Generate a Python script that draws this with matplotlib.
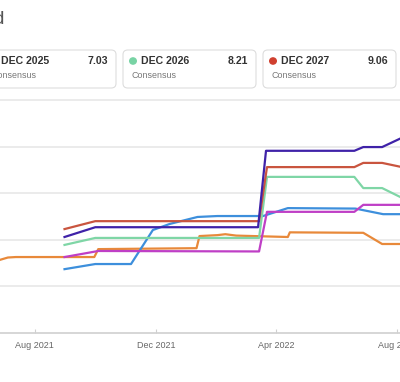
import matplotlib
matplotlib.use("Agg")
import matplotlib.pyplot as plt
import matplotlib.dates as mdates
import pandas as pd
from matplotlib.patches import FancyBboxPatch, Circle

# ==========================================
# DATA
# ==========================================

orange_dates = ["2021-06-27", "2021-07-05", "2021-07-13", "2021-09-30", "2021-10-04",
                "2022-01-11", "2022-01-14", "2022-02-01", "2022-02-09", "2022-02-20",
                "2022-04-13", "2022-04-15", "2022-06-28", "2022-07-17", "2022-08-06"]
orange_vals = [6.57, 6.62, 6.63, 6.63, 6.80,
               6.82, 7.08, 7.10, 7.12, 7.09,
               7.06, 7.16, 7.15, 6.91, 6.91]

red_dates = ["2021-08-31", "2021-10-01", "2022-03-15", "2022-03-23",
             "2022-06-19", "2022-06-28", "2022-07-17", "2022-08-06"]
red_vals = [7.23, 7.40, 7.40, 8.56, 8.56, 8.65, 8.65, 8.56]

purple_dates = ["2021-08-31", "2021-10-01", "2022-03-14", "2022-03-22",
                "2022-06-19", "2022-06-28", "2022-07-17", "2022-08-06"]
purple_vals = [7.06, 7.27, 7.27, 8.91, 8.91, 8.99, 8.99, 9.19]

green_dates = ["2021-08-31", "2021-10-01", "2022-03-15", "2022-03-23",
               "2022-06-19", "2022-06-28", "2022-07-17", "2022-08-06"]
green_vals = [6.89, 7.04, 7.04, 8.35, 8.35, 8.11, 8.11, 7.90]

blue_dates = ["2021-08-31", "2021-10-01", "2021-11-06", "2021-11-28", "2021-12-15",
              "2022-01-12", "2022-02-01", "2022-03-19", "2022-04-13", "2022-06-20",
              "2022-07-18", "2022-08-06"]
blue_vals = [6.37, 6.48, 6.48, 7.21, 7.34,
             7.49, 7.51, 7.51, 7.68, 7.67,
             7.55, 7.55]

magenta_dates = ["2021-08-31", "2021-10-04", "2022-03-15", "2022-03-23",
                 "2022-06-19", "2022-06-28", "2022-08-06"]
magenta_vals = [6.63, 6.76, 6.75, 7.60, 7.60, 7.75, 7.75]

tick_dates = ["2021-08-01", "2021-12-01", "2022-04-01", "2022-08-01"]
tick_labels = ["Aug 2021", "Dec 2021", "Apr 2022", "Aug 2022"]

cards = [("DEC 2025", "7.03", "#e8893a"),
         ("DEC 2026", "8.21", "#78d3a4"),
         ("DEC 2027", "9.06", "#d0402f")]

W, H = 400, 382

# ==========================================
# FIGURE
# ==========================================

fig = plt.figure(figsize=(W / 100, H / 100), dpi=100)
fig.patch.set_facecolor("white")


def fx(px):
    return px / W


def fy(py):
    return 1 - py / H


ax = fig.add_axes([0, fy(333), 1, fy(100) - fy(333)])
ax.set_xlim(pd.Timestamp("2021-06-27"), pd.Timestamp("2022-08-04"))
ax.set_ylim(5, 10)

for v in [6, 7, 8, 9, 10]:
    ax.axhline(v, color="#e6e6e6", lw=1.1, zorder=0, clip_on=False)

series = [
    (orange_dates, orange_vals, "#e8893a"),
    (blue_dates, blue_vals, "#3d8fdc"),
    (magenta_dates, magenta_vals, "#bf3fc6"),
    (green_dates, green_vals, "#7fd6a6"),
    (red_dates, red_vals, "#c9553f"),
    (purple_dates, purple_vals, "#3f22a8"),
]
for d, v, c in series:
    ax.plot(pd.to_datetime(d), v, color=c, lw=1.6, solid_joinstyle="round")

for s in ["top", "left", "right"]:
    ax.spines[s].set_visible(False)
ax.spines["bottom"].set_color("#d0d0d0")
ax.spines["bottom"].set_linewidth(1.2)

ax.set_yticks([])
ax.set_xticks(pd.to_datetime(tick_dates))
ax.set_xticklabels(tick_labels, fontsize=6.5, color="#666666", family="Liberation Sans")
ax.tick_params(axis="x", direction="in", length=3, color="#d0d0d0", pad=6)

# ==========================================
# HEADER
# ==========================================

fig.text(fx(5), fy(19), "Trend", fontsize=14, color="#555555",
         ha="right", va="center", family="Liberation Sans")

card_w = 133
for i, (name, val, col) in enumerate(cards):
    left = -17 + i * 140
    box = FancyBboxPatch((fx(left), fy(88)), fx(card_w), fy(50) - fy(88),
                         boxstyle="round,pad=0,rounding_size=0.012",
                         transform=fig.transFigure, facecolor="white",
                         edgecolor="#dddddd", lw=0.8)
    fig.patches.append(box)
    dot = Circle((fx(left + 10), fy(61)), fx(4), transform=fig.transFigure,
                 facecolor=col, edgecolor="none")
    fig.patches.append(dot)
    fig.text(fx(left + 18), fy(61), name, fontsize=7.6, fontweight="bold",
             color="#333333", ha="left", va="center", family="Liberation Sans")
    fig.text(fx(left + 125), fy(61), val, fontsize=7.6, fontweight="bold",
             color="#333333", ha="right", va="center", family="Liberation Sans")
    fig.text(fx(left + 8), fy(76), "Consensus", fontsize=6.4,
             color="#777777", ha="left", va="center", family="Liberation Sans")

fig.savefig("out.png", dpi=100, facecolor="white")
